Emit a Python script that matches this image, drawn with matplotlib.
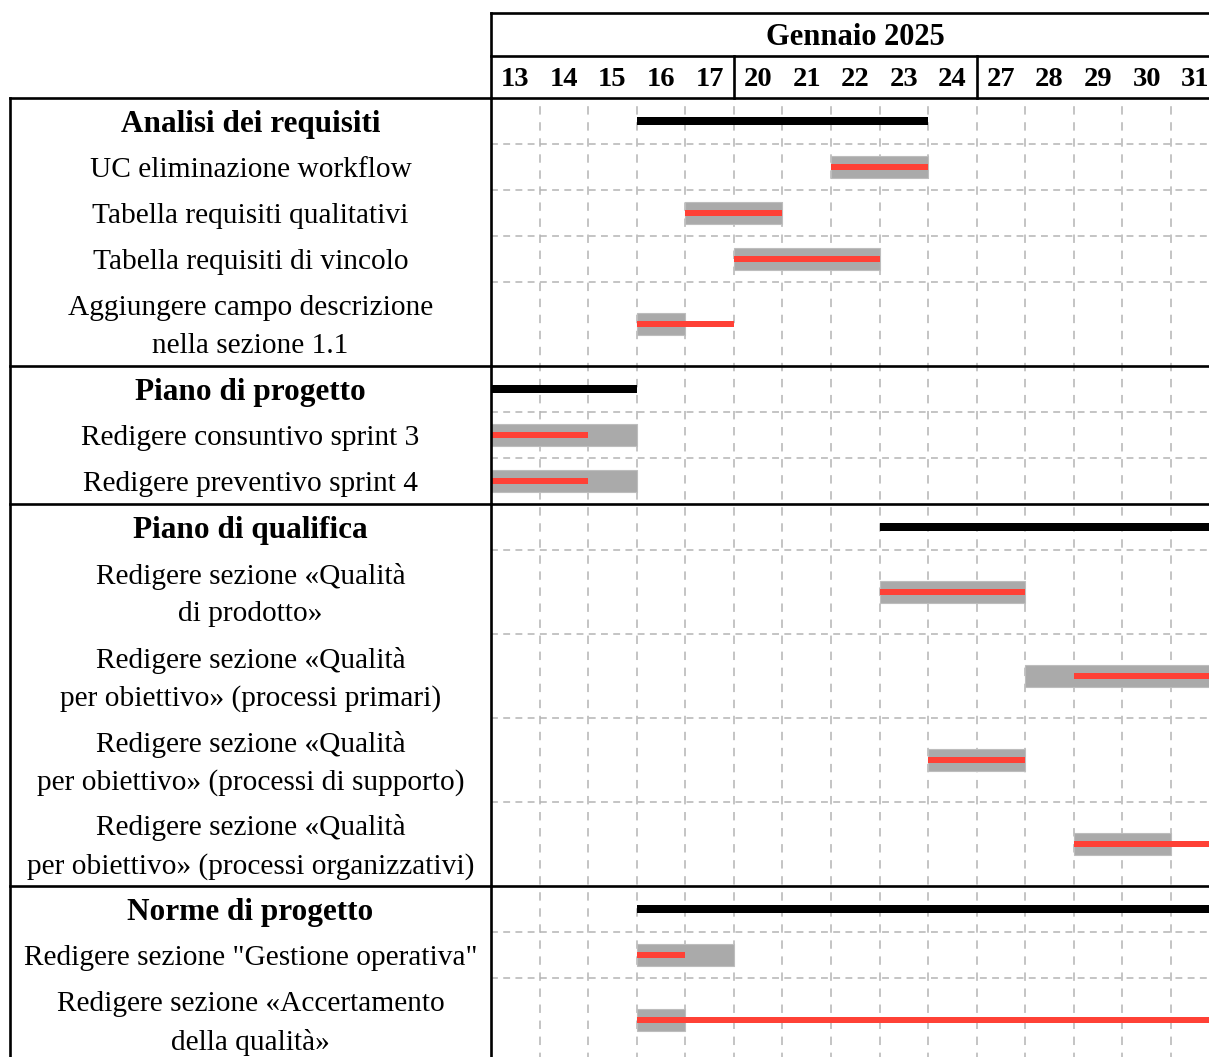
import numpy as np
import matplotlib
matplotlib.use("Agg")
import matplotlib.pyplot as plt
import matplotlib.transforms as mtransforms

plt.rcParams['font.family'] = ['Liberation Serif', 'DejaVu Serif']

# ---------------- data ----------------
month_label = "Gennaio 2025"
days = [13, 14, 15, 16, 17, 20, 21, 22, 23, 24, 27, 28, 29, 30, 31]
week_breaks = [5, 10]  # index of first day of new week

section_names = ["Analisi dei requisiti", "Piano di progetto",
                 "Piano di qualifica", "Norme di progetto"]
section_start = [16, 13, 23, 16]
section_end = [23, 15, 31, 31]

task_section = [0, 0, 0, 0, 1, 1, 2, 2, 2, 2, 3, 3]
task_names = [
    "UC eliminazione workflow",
    "Tabella requisiti qualitativi",
    "Tabella requisiti di vincolo",
    "Aggiungere campo descrizione\nnella sezione 1.1",
    "Redigere consuntivo sprint 3",
    "Redigere preventivo sprint 4",
    "Redigere sezione «Qualità\ndi prodotto»",
    "Redigere sezione «Qualità\nper obiettivo» (processi primari)",
    "Redigere sezione «Qualità\nper obiettivo» (processi di supporto)",
    "Redigere sezione «Qualità\nper obiettivo» (processi organizzativi)",
    "Redigere sezione \"Gestione operativa\"",
    "Redigere sezione «Accertamento\ndella qualità»",
]
plan_start = [22, 17, 20, 16, 13, 13, 23, 28, 24, 29, 16, 16]
plan_end = [23, 20, 22, 16, 15, 15, 27, 31, 27, 30, 17, 16]
real_start = [22, 17, 20, 16, 13, 13, 23, 29, 24, 29, 16, 16]
real_end = [23, 20, 22, 17, 14, 14, 27, 31, 27, 31, 16, 31]

# ---------------- layout ----------------
W, H = 1209, 1057
fig = plt.figure(figsize=(W / 100, H / 100), dpi=100)

X0 = 491          # left edge of gantt area (px)
CW = 48.57        # column width (px)
NCOL = len(days)
TOP = 98          # top of body (px)
LEFT = 10
ROW_PX = 46.0
EXTRA_LINE_PX = 38.0

def didx(d):
    return days.index(d)

rows = []
for s, sname in enumerate(section_names):
    rows.append((sname, True, 1.0, 'sec', s))
    for t, ts in enumerate(task_section):
        if ts == s:
            nl = task_names[t].count("\n") + 1
            rows.append((task_names[t], False, (ROW_PX + EXTRA_LINE_PX * (nl - 1)) / ROW_PX, 'task', t))

tops = np.concatenate([[0], np.cumsum([r[2] for r in rows])])
total = tops[-1]
body_h_px = total * ROW_PX

def fx(px):
    return px / W

def fy(py):
    return 1 - py / H

ax = fig.add_axes([fx(X0), fy(TOP + body_h_px), NCOL * CW / W, body_h_px / H])
ax.set_xlim(0, NCOL)
ax.set_ylim(total, 0)
ax.axis('off')

lab = fig.add_axes([fx(LEFT), fy(TOP + body_h_px), (X0 - LEFT) / W, body_h_px / H], sharey=ax)
lab.set_xlim(0, 1)
lab.axis('off')

hdr = fig.add_axes([fx(X0), fy(TOP), NCOL * CW / W, (TOP - 13) / H], sharex=ax)
hdr.set_ylim(0, 2)
hdr.axis('off')

grid_c = '#b4b4b4'
BLK_LW = 1.9

for i in range(1, NCOL + 1):
    ax.axvline(i, color=grid_c, lw=1.1, ls=(2, (5.5, 5)), zorder=0)

sec_row_idx = [i for i, r in enumerate(rows) if r[3] == 'sec']
for i in range(1, len(rows)):
    if i in sec_row_idx:
        continue
    ax.axhline(tops[i], color=grid_c, lw=1.1, ls=(0, (4.5, 3.5)), zorder=0)

GRAY_H = 21.5 / ROW_PX
RED_H = 6 / ROW_PX
BLACK_H = 8.5 / ROW_PX
for i, r in enumerate(rows):
    yc = (tops[i] + tops[i + 1]) / 2
    if r[3] == 'sec':
        s = r[4]
        a, b = didx(section_start[s]), didx(section_end[s]) + 1
        ax.barh(yc, b - a, left=a, height=BLACK_H, color='black', zorder=3)
    else:
        t = r[4]
        a, b = didx(plan_start[t]), didx(plan_end[t]) + 1
        ax.barh(yc, b - a, left=a, height=GRAY_H, color='#aaaaaa',
                edgecolor='#bdbdbd', linewidth=0.8, zorder=2)
        a, b = didx(real_start[t]), didx(real_end[t]) + 1
        ax.barh(yc, b - a, left=a, height=RED_H, color='#ff4136', zorder=3)

FS = 21.2
FS_B = 22.5
for i, r in enumerate(rows):
    yc = (tops[i] + tops[i + 1]) / 2
    lines = r[0].split("\n")
    n = len(lines)
    for k, line in enumerate(lines):
        off = (k - (n - 1) / 2) * EXTRA_LINE_PX * 0.72  # px -> pt
        tr = lab.transData + mtransforms.ScaledTranslation(0, -off / 72, fig.dpi_scale_trans)
        lab.text(0.5, yc, line, ha='center', va='center_baseline',
                 fontsize=FS_B if r[1] else FS,
                 fontweight='bold' if r[1] else 'normal', transform=tr)

for i in sec_row_idx[1:]:
    ax.plot([0, NCOL], [tops[i], tops[i]], color='black', lw=BLK_LW, clip_on=False, zorder=5)
    lab.plot([0, 1], [tops[i], tops[i]], color='black', lw=BLK_LW, clip_on=False, zorder=5)
ax.plot([0, NCOL], [0, 0], color='black', lw=BLK_LW, clip_on=False, zorder=5)
lab.plot([0, 1], [0, 0], color='black', lw=BLK_LW, clip_on=False, zorder=5)
ax.plot([0, NCOL], [total, total], color='black', lw=BLK_LW, clip_on=False, zorder=5)
lab.plot([0, 1], [total, total], color='black', lw=BLK_LW, clip_on=False, zorder=5)
lab.plot([0, 0], [0, total], color='black', lw=BLK_LW, clip_on=False, zorder=5)
ax.plot([0, 0], [0, total], color='black', lw=BLK_LW, clip_on=False, zorder=5)

hdr.plot([0, 0], [0, 2], color='black', lw=BLK_LW, clip_on=False)
hdr.plot([0, NCOL], [2, 2], color='black', lw=BLK_LW, clip_on=False)
hdr.plot([0, NCOL], [1, 1], color='black', lw=BLK_LW, clip_on=False)
for wb in week_breaks:
    hdr.plot([wb, wb], [0, 1], color='black', lw=BLK_LW, clip_on=False)
hdr.text(NCOL / 2, 1.5, month_label, ha='center', va='center_baseline',
         fontsize=22, fontweight='bold')
for i, d in enumerate(days):
    hdr.text(i + 0.5, 0.5, str(d), ha='center', va='center_baseline',
             fontsize=20.5, fontweight='bold')

fig.savefig('out.png', dpi=100)
